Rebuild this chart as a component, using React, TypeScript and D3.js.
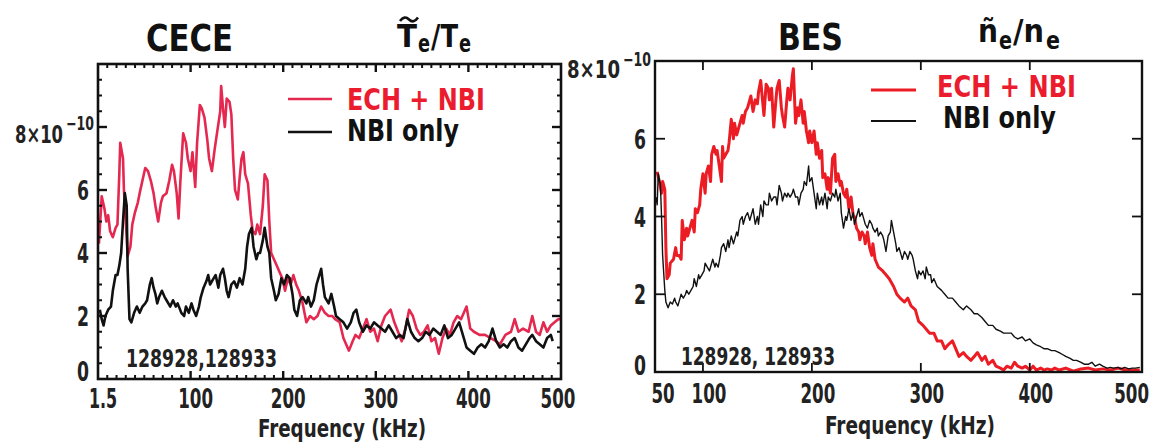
import React from 'react';
import * as d3 from 'd3';

// ---------- CECE panel data (frequency kHz, amplitude ×1e-10) ----------
const ceceEchFreq = [1,4,7,9,11,13,16,19,21,23,24,27,28,31,32,35,37,40,43,45,48,51,54,57,60,62,65,68,70,74,77,80,82,85,87,89,92,95,97,100,102,105,107,110,112,115,118,120,123,126,129,132,133,135,137,139,142,144,146,148,151,153,155,157,159,162,165,167,170,172,175,178,180,183,185,187,190,193,196,199,202,205,208,211,214,217,221,225,229,233,237,241,245,249,253,256,261,265,271,275,278,282,286,290,294,298,302,306,310,316,320,324,328,332,336,340,344,348,352,356,360,364,368,372,376,380,384,388,392,398,402,406,412,418,424,430,434,440,446,450,454,459,465,469,473,477,481,485,489,493,497,499];
const ceceEchVal = [4.3,5.8,5.4,5.0,5.2,4.7,4.5,4.8,4.9,6.5,7.5,7.0,6.0,4.5,3.9,4.2,4.9,5.3,5.6,5.9,6.3,6.7,6.6,6.3,5.9,5.5,5.0,5.6,5.8,5.9,6.3,6.8,6.6,5.9,5.1,6.3,7.8,7.5,7.0,6.6,7.2,6.1,7.5,8.7,8.6,8.3,7.6,7.0,6.6,7.3,7.9,8.5,9.3,8.6,8.0,8.9,8.8,8.4,7.0,6.0,5.7,6.4,7.0,7.2,6.5,6.2,5.2,4.7,4.6,4.9,4.6,5.5,6.5,6.3,5.0,4.0,3.8,3.6,3.4,3.2,2.8,3.2,3.0,3.3,3.0,2.8,2.4,1.8,2.0,1.9,2.0,2.3,2.1,2.0,2.0,1.9,1.8,1.3,0.9,1.2,1.4,1.3,1.6,1.9,1.5,1.6,1.2,1.7,2.0,2.2,1.8,1.5,1.2,1.6,2.2,2.0,1.6,1.4,1.5,1.7,1.2,1.3,0.8,1.3,1.6,1.4,1.8,2.0,1.9,2.3,1.6,1.5,1.4,1.4,1.3,1.2,1.1,1.4,1.5,1.9,1.5,1.6,1.5,2.0,1.5,1.4,1.8,1.5,1.7,1.8,1.9,1.9];

const ceceNbiFreq = [2,4,6,8,11,14,16,19,21,23,25,27,29,31,32,34,36,39,42,45,48,51,53,56,58,60,62,64,66,69,72,74,78,81,84,86,90,93,95,98,101,103,106,109,111,114,117,119,121,125,127,130,132,135,137,139,141,144,147,150,153,156,159,161,163,166,168,171,173,175,178,180,183,185,187,190,192,195,198,201,204,207,210,212,215,218,221,225,227,230,233,236,239,241,243,245,249,252,255,257,261,265,269,273,276,279,282,286,290,294,298,302,306,310,314,318,322,326,330,334,338,342,346,350,354,358,362,366,370,374,378,382,386,390,394,398,402,406,410,414,418,422,426,430,434,438,442,446,450,454,458,462,466,469,473,477,481,485,489,491];
const ceceNbiVal = [2.2,1.9,1.7,2.0,2.2,2.3,2.8,3.3,3.3,3.6,4.0,5.0,5.9,5.5,3.5,1.9,1.8,2.1,2.3,2.1,2.3,2.4,2.5,3.0,3.2,2.9,2.7,2.4,2.6,2.8,2.6,2.5,2.3,2.5,2.3,2.4,2.1,2.0,2.3,2.1,2.4,2.2,2.0,2.3,2.6,2.9,3.1,3.3,3.0,3.2,3.3,2.9,3.3,3.5,3.2,2.8,2.6,3.0,3.1,2.9,3.2,3.0,3.5,4.2,4.6,4.8,4.2,3.8,4.0,4.0,4.4,4.8,4.2,4.0,3.2,2.8,2.5,2.7,3.2,3.0,3.3,3.2,2.7,2.2,2.0,2.5,2.6,2.4,2.6,2.3,2.5,3.0,3.3,3.5,3.0,2.6,2.4,2.7,2.3,2.0,1.9,1.8,1.6,1.8,2.1,2.2,1.8,1.5,1.7,1.6,1.8,1.7,1.6,1.5,1.7,1.5,1.3,1.4,1.3,1.9,1.5,1.3,1.2,1.3,1.5,1.4,1.6,1.5,1.4,1.7,1.3,1.4,1.6,1.8,1.4,1.0,0.9,0.8,1.0,1.1,1.0,1.2,1.6,1.2,1.0,1.1,1.0,1.2,1.3,1.0,0.9,1.1,1.3,1.4,1.2,1.1,1.0,1.3,1.4,1.2];

// ---------- BES panel data ----------
const besEchFreq = [58,60,62,63,65,66,67,69,70,73,75,76,78,80,81,83,85,86,88,90,92,93,95,97,98,100,102,103,105,107,108,110,112,113,115,117,118,119,121,123,124,126,128,129,131,132,134,136,137,139,141,143,144,146,148,150,151,153,155,156,158,160,161,163,165,167,168,170,172,173,175,177,178,180,182,183,184,185,187,188,190,192,193,195,197,198,200,202,204,205,207,209,210,212,214,215,217,219,221,222,224,226,227,229,231,232,234,236,238,239,241,243,244,246,248,249,251,253,255,256,258,261,265,268,271,275,278,281,285,288,291,295,298,302,305,308,312,315,319,322,325,329,332,335,339,342,346,349,352,356,359,362,366,369,373,376,379,383,386,389,393,396,400,403,406,410,413,416,420,423,427,433,440,447,454,460,467,474,481,488,494,501];
const besEchVal = [5.15,4.9,4.6,4.9,4.7,3.2,2.4,2.5,2.8,2.9,3.2,3.0,3.0,2.9,3.9,3.4,3.7,3.5,3.7,3.9,3.6,4.2,4.1,4.3,4.7,5.1,4.6,5.1,5.3,4.9,5.6,5.8,5.6,5.7,5.3,4.9,5.8,5.5,5.6,5.7,5.9,6.5,6.0,6.4,6.1,6.2,6.4,6.6,6.4,6.7,6.8,7.0,7.1,6.7,7.0,6.9,7.2,7.5,6.9,6.6,7.4,7.3,7.0,7.3,6.3,7.0,7.3,7.5,6.8,6.6,6.3,7.0,7.3,7.0,7.6,7.8,7.1,6.4,6.8,6.6,7.0,6.4,6.7,6.2,5.9,6.2,5.9,6.2,5.6,5.9,5.5,5.7,5.0,5.1,4.7,5.0,4.6,5.5,5.6,4.9,5.1,4.8,4.9,4.6,4.5,4.7,4.2,4.5,4.0,4.0,3.7,3.6,3.4,3.6,3.5,3.3,3.6,3.2,3.0,3.3,2.9,2.7,2.6,2.5,2.4,2.2,2.0,1.9,1.8,1.9,1.7,1.6,1.3,1.2,1.1,1.0,1.0,0.8,0.8,0.6,0.7,0.8,0.6,0.4,0.5,0.4,0.3,0.4,0.5,0.3,0.4,0.2,0.3,0.15,0.1,0.05,0.15,0.1,0.25,0.15,0.1,0.15,0.05,0.15,0.05,0.1,0.05,0.08,0.05,0.1,0.05,0.1,0.02,0.08,0.1,0.05,0.08,0.05,0.1,0.05,0.05,0.05];

const besNbiFreq = [57,58,59,61,62,63,65,66,68,70,72,74,75,77,79,80,82,84,85,87,89,91,92,94,96,97,99,101,102,104,106,107,109,111,112,114,116,117,119,121,123,124,126,128,129,131,132,134,136,137,139,141,143,144,146,148,150,151,153,155,156,158,160,161,163,165,167,168,170,172,173,175,177,178,180,182,183,185,187,188,190,192,193,195,197,198,200,202,204,205,207,209,210,212,214,215,217,219,221,222,224,226,227,229,231,232,234,236,238,239,241,243,244,246,248,249,251,253,255,256,258,260,261,263,265,266,268,270,272,273,275,277,278,280,282,283,285,287,288,290,292,293,295,297,298,300,302,304,305,307,309,310,312,315,319,322,325,329,332,335,339,342,346,349,352,356,359,362,366,369,373,376,379,383,386,389,393,396,400,403,406,410,413,416,420,423,427,430,433,437,440,443,447,450,454,457,460,464,467,471,474,477,481,484,487,491,494,497,501];
const besNbiVal = [4.5,4.3,5.1,4.8,4.0,3.0,2.1,1.8,1.65,1.8,1.75,1.9,1.8,1.7,1.9,2.0,1.9,2.0,2.1,2.0,2.1,2.2,2.4,2.2,2.5,2.4,2.5,2.6,2.8,2.7,2.6,2.7,2.9,2.7,2.8,2.7,3.0,3.2,3.3,3.1,3.4,3.2,3.5,3.3,3.4,3.6,3.5,3.9,4.0,3.8,4.0,4.1,3.9,4.0,4.2,3.8,4.0,3.8,4.3,4.0,4.4,4.3,4.3,4.6,4.4,4.5,4.5,4.3,4.8,4.6,4.4,4.6,4.5,4.6,4.5,4.6,4.7,4.5,4.5,4.3,4.6,4.7,4.9,4.8,5.3,4.9,5.0,4.6,4.2,4.6,4.3,4.5,4.3,4.6,4.2,4.5,4.4,4.6,4.5,4.7,4.4,4.6,4.1,3.7,4.0,3.9,4.2,3.9,4.1,3.8,4.0,4.2,4.0,4.1,3.9,3.8,3.7,3.9,3.8,3.7,3.6,3.7,3.5,3.6,3.5,3.4,3.1,3.5,3.6,3.9,3.6,3.3,3.1,3.2,3.0,2.9,3.1,3.0,2.9,3.1,3.0,2.9,2.6,2.4,2.6,2.5,2.6,2.4,2.7,2.5,2.5,2.3,2.4,2.2,2.1,2.0,1.9,1.9,1.8,1.7,1.6,1.7,1.6,1.5,1.5,1.4,1.3,1.2,1.2,1.1,1.05,1.0,1.0,1.0,0.9,0.85,0.9,0.8,0.85,0.75,0.7,0.65,0.6,0.6,0.55,0.55,0.5,0.45,0.4,0.35,0.3,0.3,0.25,0.2,0.2,0.25,0.15,0.2,0.15,0.1,0.12,0.1,0.12,0.08,0.12,0.08,0.1,0.1,0.12];

// ---------- axis ticks / labels ----------
const ceceXTickVals = [0, 100, 200, 300, 400, 500];
const ceceXTickLabels = ['1.5', '100', '200', '300', '400', '500'];
const ceceYTickVals = [0, 2, 4, 6];
const ceceYTickLabels = ['0', '2', '4', '6'];
const besXTickVals = [56, 100, 200, 300, 400, 500];
const besXTickLabels = ['50', '100', '200', '300', '400', '500'];
const besYTickVals = [0, 2, 4, 6];
const besYTickLabels = ['0', '2', '4', '6'];
const legendLabels = ['ECH + NBI', 'NBI only'];
const shotLabelCece = '128928,128933';
const shotLabelBes = '128928, 128933';
const xAxisTitle = 'Frequency (kHz)';

const FONT = "'Liberation Sans Narrow','DejaVu Sans Condensed','Arial Narrow',sans-serif";
const RED_CECE = '#e4284f';
const RED_TEXT = '#ea1c2d';
const RED_BES = '#ec1c24';

const zip = (a: number[], b: number[]) => a.map((v, i) => [v, b[i]] as [number, number]);
const labelWidth = (s: string) => s.replace(/[.,]/g, '').length * 11.6 + (s.match(/[.,]/g) || []).length * 5;

function Cece() {
  const x = d3.scaleLinear().domain([0, 500]).range([98, 561]);
  const y = d3.scaleLinear().domain([0, 10]).range([379, 64]);
  const line = d3.line<[number, number]>().x(d => x(d[0])).y(d => y(d[1]));
  const [x0, x1] = x.range();
  const [yb, yt] = y.range();
  const minorX = d3.range(10, 500, 10).filter(v => v % 100 !== 0);
  const majorX = [100, 200, 300, 400];
  const minorY = d3.range(0.5, 10, 0.5).filter(v => v % 2 !== 0);
  const majorY = [2, 4, 6, 8];
  return (
    <g>
      <defs>
        <clipPath id="clipCece"><rect x={x0} y={yt} width={x1 - x0} height={yb - yt} /></clipPath>
      </defs>
      <g clipPath="url(#clipCece)">
        <path d={line(zip(ceceEchFreq, ceceEchVal)) || ''} fill="none" stroke={RED_CECE} strokeWidth={2.6} strokeLinejoin="round" />
        <path d={line(zip(ceceNbiFreq, ceceNbiVal)) || ''} fill="none" stroke="#111" strokeWidth={2.6} strokeLinejoin="round" />
      </g>
      {minorX.map(v => (
        <g key={'mx' + v} stroke="#111" strokeWidth={2}>
          <line x1={x(v)} x2={x(v)} y1={yb} y2={yb - 4} />
          <line x1={x(v)} x2={x(v)} y1={yt} y2={yt + 4} />
        </g>
      ))}
      {majorX.map(v => (
        <g key={'Mx' + v} stroke="#111" strokeWidth={2.4}>
          <line x1={x(v)} x2={x(v)} y1={yb} y2={yb - 8} />
          <line x1={x(v)} x2={x(v)} y1={yt} y2={yt + 8} />
        </g>
      ))}
      {minorY.map(v => (
        <g key={'my' + v} stroke="#111" strokeWidth={2}>
          <line x1={x0} x2={x0 + 4} y1={y(v)} y2={y(v)} />
          <line x1={x1} x2={x1 - 4} y1={y(v)} y2={y(v)} />
        </g>
      ))}
      {majorY.map(v => (
        <g key={'My' + v} stroke="#111" strokeWidth={2.4}>
          <line x1={x0} x2={x0 + 9} y1={y(v)} y2={y(v)} />
          <line x1={x1} x2={x1 - 9} y1={y(v)} y2={y(v)} />
        </g>
      ))}
      <rect x={x0} y={yt} width={x1 - x0} height={yb - yt} fill="none" stroke="#111" strokeWidth={2.6} />
      <g fontFamily={FONT} fontWeight="bold" fontSize={27} fill="#222">
        {ceceXTickVals.map((v, i) => (
          <text key={'xl' + v} x={Math.min(x(v) + 5, 558)} y={408} textAnchor="middle"
            textLength={labelWidth(ceceXTickLabels[i])} lengthAdjust="spacingAndGlyphs">{ceceXTickLabels[i]}</text>
        ))}
        {ceceYTickVals.map((v, i) => (
          <text key={'yl' + v} x={89} y={y(v) + (v === 0 ? 2 : 10)} textAnchor="end"
            textLength={12} lengthAdjust="spacingAndGlyphs">{ceceYTickLabels[i]}</text>
        ))}
        <text x={63} y={y(8) + 16} textAnchor="end" fontSize={25} textLength={48} lengthAdjust="spacingAndGlyphs">8×10</text>
        <text x={66} y={y(8) + 3} fontSize={19} textLength={28} lengthAdjust="spacingAndGlyphs">−10</text>
        <text x={258} y={437} fontSize={25} textLength={168} lengthAdjust="spacingAndGlyphs">{xAxisTitle}</text>
      </g>
      <g fontFamily={FONT} fontWeight="bold" fill="#111">
        <text x={146} y={51} fontSize={38} textLength={87} lengthAdjust="spacingAndGlyphs">CECE</text>
        <text x={397} y={47} fontSize={32} textLength={20} lengthAdjust="spacingAndGlyphs">T</text>
        <text x={418} y={52} fontSize={24} textLength={12} lengthAdjust="spacingAndGlyphs">e</text>
        <text x={431} y={47} fontSize={32} textLength={27} lengthAdjust="spacingAndGlyphs">/T</text>
        <text x={459} y={52} fontSize={24} textLength={12} lengthAdjust="spacingAndGlyphs">e</text>
        <path d="M400,21 q4.5,-6 9,-1.5 t9,-2" fill="none" stroke="#111" strokeWidth={2.6} />
      </g>
      <line x1={288} x2={332} y1={99} y2={99} stroke={RED_CECE} strokeWidth={2.6} />
      <line x1={288} x2={332} y1={132} y2={132} stroke="#111" strokeWidth={2.6} />
      <g fontFamily={FONT} fontWeight="bold" fontSize={31}>
        <text x={347} y={110} fill={RED_TEXT} textLength={138} lengthAdjust="spacingAndGlyphs">{legendLabels[0]}</text>
        <text x={347} y={141} fill="#111" textLength={112} lengthAdjust="spacingAndGlyphs">{legendLabels[1]}</text>
      </g>
      <text x={126} y={367} fontFamily={FONT} fontWeight="bold" fontSize={24} fill="#222" textLength={151} lengthAdjust="spacingAndGlyphs">{shotLabelCece}</text>
    </g>
  );
}

function Bes() {
  const x = d3.scaleLinear().domain([56, 503]).range([655, 1142]);
  const y = d3.scaleLinear().domain([0, 8]).range([372, 61]);
  const line = d3.line<[number, number]>().x(d => x(d[0])).y(d => y(d[1]));
  const [x0, x1] = x.range();
  const [yb, yt] = y.range();
  const majorX = [100, 200, 300, 400];
  const majorY = [2, 4, 6];
  return (
    <g>
      <defs>
        <clipPath id="clipBes"><rect x={x0} y={yt} width={x1 - x0} height={yb - yt} /></clipPath>
      </defs>
      <g clipPath="url(#clipBes)">
        <path d={line(zip(besEchFreq, besEchVal)) || ''} fill="none" stroke={RED_BES} strokeWidth={3} strokeLinejoin="round" />
        <path d={line(zip(besNbiFreq, besNbiVal)) || ''} fill="none" stroke="#111" strokeWidth={1.4} strokeLinejoin="round" />
      </g>
      {majorX.map(v => (
        <g key={'Mx' + v} stroke="#111" strokeWidth={1.8}>
          <line x1={x(v)} x2={x(v)} y1={yb} y2={yb - 9} />
          <line x1={x(v)} x2={x(v)} y1={yt} y2={yt + 9} />
        </g>
      ))}
      {majorY.map(v => (
        <g key={'My' + v} stroke="#111" strokeWidth={1.8}>
          <line x1={x0} x2={x0 + 10} y1={y(v)} y2={y(v)} />
          <line x1={x1} x2={x1 - 10} y1={y(v)} y2={y(v)} />
        </g>
      ))}
      <rect x={x0} y={yt} width={x1 - x0} height={yb - yt} fill="none" stroke="#111" strokeWidth={2.4} />
      <g fontFamily={FONT} fontWeight="bold" fontSize={27} fill="#222">
        {besXTickVals.map((v, i) => {
          const w = labelWidth(besXTickLabels[i]);
          const cx = i === 0 ? 663 : Math.min(x(v) + 6, 1149 - w / 2);
          return (
            <text key={'xl' + v} x={cx} y={403} textAnchor="middle"
              textLength={w} lengthAdjust="spacingAndGlyphs">{besXTickLabels[i]}</text>
          );
        })}
        {besYTickVals.map((v, i) => (
          <text key={'yl' + v} x={646} y={y(v) + (v === 0 ? 3 : 10)} textAnchor="end"
            textLength={12} lengthAdjust="spacingAndGlyphs">{besYTickLabels[i]}</text>
        ))}
        <text x={620} y={y(8) + 17} textAnchor="end" fontSize={25} textLength={53} lengthAdjust="spacingAndGlyphs">8×10</text>
        <text x={623} y={y(8) + 5} fontSize={19} textLength={28} lengthAdjust="spacingAndGlyphs">−10</text>
        <text x={825} y={434} fontSize={25} textLength={170} lengthAdjust="spacingAndGlyphs">{xAxisTitle}</text>
      </g>
      <g fontFamily={FONT} fontWeight="bold" fill="#111">
        <text x={778} y={50} fontSize={38} textLength={65} lengthAdjust="spacingAndGlyphs">BES</text>
        <text x={978} y={42} fontSize={32} textLength={20} lengthAdjust="spacingAndGlyphs">ñ</text>
        <text x={999} y={49} fontSize={24} textLength={13} lengthAdjust="spacingAndGlyphs">e</text>
        <text x={1013} y={42} fontSize={32} textLength={31} lengthAdjust="spacingAndGlyphs">/n</text>
        <text x={1046} y={49} fontSize={24} textLength={14} lengthAdjust="spacingAndGlyphs">e</text>
      </g>
      <line x1={871} x2={916} y1={90} y2={90} stroke={RED_BES} strokeWidth={3} />
      <line x1={871} x2={916} y1={121} y2={121} stroke="#111" strokeWidth={2.2} />
      <g fontFamily={FONT} fontWeight="bold" fontSize={31}>
        <text x={937} y={97} fill={RED_TEXT} textLength={139} lengthAdjust="spacingAndGlyphs">{legendLabels[0]}</text>
        <text x={943} y={128} fill="#111" textLength={113} lengthAdjust="spacingAndGlyphs">{legendLabels[1]}</text>
      </g>
      <text x={681} y={365} fontFamily={FONT} fontWeight="bold" fontSize={24} fill="#222" textLength={154} lengthAdjust="spacingAndGlyphs">{shotLabelBes}</text>
    </g>
  );
}

export default function App() {
  return (
    <svg width={1155} height={443} viewBox="0 0 1155 443" style={{ position: 'absolute', left: 0, top: 0, background: '#fff' }}>
      <rect x={0} y={0} width={1155} height={443} fill="#fff" />
      <Cece />
      <Bes />
    </svg>
  );
}
